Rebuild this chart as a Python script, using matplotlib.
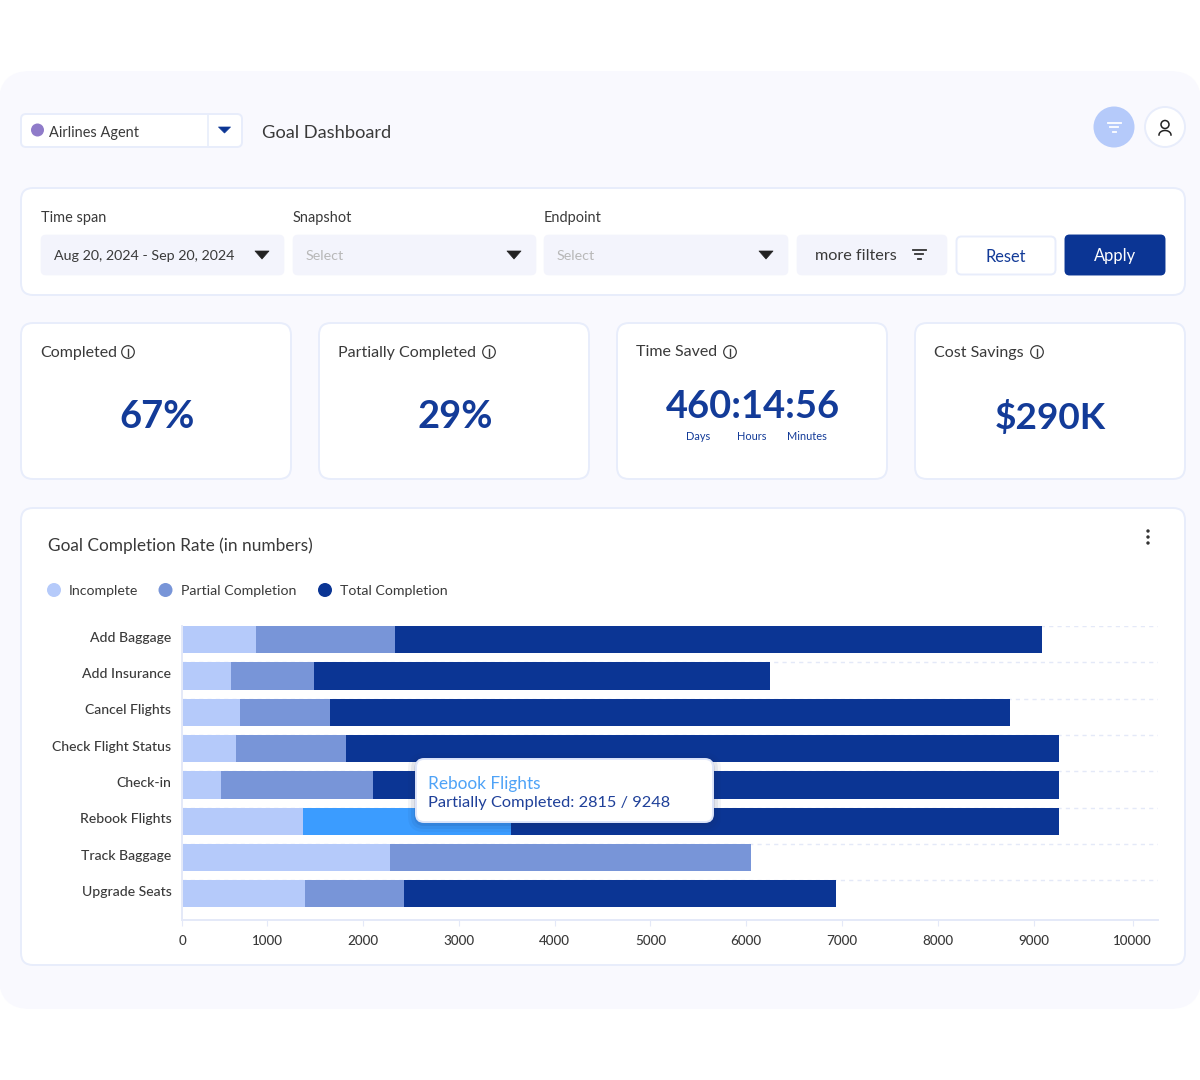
"""Goal dashboard mock: UI cards drawn in pixel space, stacked bar chart on its own axes."""

import matplotlib
import numpy as np

matplotlib.use("Agg")
import matplotlib.pyplot as plt
from matplotlib.patches import Circle, FancyBboxPatch, Polygon
from matplotlib.transforms import ScaledTranslation

W, H = 1200, 1080
FONT = "Lato"
BG = "#f9f9fe"
BORDER = "#e8edfb"
FIELD = "#f3f4fc"
NAVY = "#0b3594"
TITLE_BLUE = "#133b98"
DARK = "#3a3a3a"
LIGHT = "#b5cafa"
MID = "#7895d8"
HILITE = "#3b9cff"

GOALS = ["Add Baggage", "Add Insurance", "Cancel Flights", "Check Flight Status",
         "Check-in", "Rebook Flights", "Track Baggage", "Upgrade Seats"]
INCOMPLETE = np.array([776, 512, 607, 565, 407, 1272, 2191, 1294])
PARTIAL = np.array([1468, 877, 951, 1162, 1605, 2197, 3812, 1045])
TOTAL = np.array([6825, 4807, 7172, 7521, 7236, 5779, 0, 4554])
HOVERED = 5
X_MAX = 10292

# the tick labels in the source do not sit on the bar scale, so they are placed by hand
TICK_AT = [0, 892, 1906, 2920, 3928, 4937, 5945, 6954, 7967, 8981, 10026]
TICK_LABELS = [0, 1000, 2000, 3000, 4000, 5000, 6000, 7000, 8000, 9000, 10000]


def pt(px):
    return px * 72 / 100


def box(ax, x0, y0, x1, y1, fc="white", ec=BORDER, r=12, lw=1.4, z=1, **kw):
    ax.add_patch(FancyBboxPatch((x0 + r, y0 + r), x1 - x0 - 2 * r, y1 - y0 - 2 * r,
                                boxstyle=f"round,pad={r},rounding_size={r}",
                                fc=fc, ec=ec, lw=lw, zorder=z, **kw))


def label(ax, x, y, s, px=15, color=DARK, ha="left", weight="normal", z=5):
    # va="center" sits a little high for this font
    ax.text(x, y + 1.5, s, fontsize=pt(px), color=color, ha=ha, va="center",
            weight=weight, family=FONT, zorder=z)


def caret(ax, x, y, color="#222222", w=7, h=8):
    ax.add_patch(Polygon([(x - w, y - h / 2), (x + w, y - h / 2), (x, y + h / 2)],
                         fc=color, ec=color, lw=0.5, joinstyle="round", zorder=5))


def filter_icon(ax, x, y, color):
    for dy, half in [(-4.5, 6.5), (0, 4), (4.5, 1.5)]:
        ax.plot([x - half, x + half], [y + dy, y + dy], color=color, lw=1.3, zorder=5)


def info_icon(ax, x, y):
    ax.add_patch(Circle((x, y), 6.3, fc="none", ec=DARK, lw=0.9, zorder=5))
    ax.plot([x, x], [y - 3, y + 3.5], color=DARK, lw=1, zorder=5)


def draw_ui(ax):
    box(ax, 0, 72, 1200, 1008, fc=BG, ec=BG, r=30, z=0)

    # header
    box(ax, 21, 114, 242, 147, r=5)
    ax.plot([208, 208], [115, 146], color=BORDER, lw=1.2, zorder=2)
    ax.add_patch(Circle((37.5, 130), 6.5, fc="#8f7bc9", ec="none", zorder=5))
    label(ax, 49, 131, "Airlines Agent", px=14.5)
    caret(ax, 224.5, 130, color=NAVY, w=6, h=6)
    label(ax, 262, 131, "Goal Dashboard", px=18.3)
    ax.add_patch(Circle((1114, 127), 20.5, fc=LIGHT, ec="none", zorder=2))
    filter_icon(ax, 1114, 127, "white")
    ax.add_patch(Circle((1165, 127), 20, fc="white", ec=BORDER, lw=1.4, zorder=2))
    ax.add_patch(Circle((1165, 124.5), 4, fc="none", ec="#222222", lw=1.1, zorder=5))
    t = np.linspace(np.pi, 2 * np.pi, 30)
    ax.plot(1165 + 6 * np.cos(t), 135 + 4.5 * np.sin(t), color="#222222", lw=1.1, zorder=5)

    # filter bar
    box(ax, 21, 188, 1185, 295)
    for x0, x1, title, value, color in [
        (41, 284, "Time span", "Aug 20, 2024 - Sep 20, 2024", DARK),
        (293, 536, "Snapshot", "Select", "#b8b8b8"),
        (544, 788, "Endpoint", "Select", "#b8b8b8"),
    ]:
        label(ax, x0, 216.5, title, px=14.5)
        box(ax, x0, 235, x1, 275, fc=FIELD, ec=FIELD, r=5, lw=0.5)
        label(ax, x0 + 13, 255, value, px=14.2, color=color)
        caret(ax, x1 - 22, 255)
    box(ax, 797, 235, 947, 275, fc=FIELD, ec=FIELD, r=5, lw=0.5)
    label(ax, 815, 255, "more filters", px=16.2)
    filter_icon(ax, 919, 254, "#333333")
    box(ax, 956.5, 236.5, 1055.5, 274.5, r=5)
    label(ax, 1006, 255, "Reset", px=16.5, color=TITLE_BLUE, ha="center")
    box(ax, 1065.5, 235.5, 1164.5, 274.5, fc=NAVY, ec=NAVY, r=4)
    label(ax, 1115, 255, "Apply", px=16.5, color="white", ha="center")

    # stat cards
    cards = [(21, "Completed", 128), (319, "Partially Completed", 489),
             (617, "Time Saved", 730), (915, "Cost Savings", 1037)]
    for x0, title, ix in cards:
        box(ax, x0, 323, x0 + 270, 479)
        label(ax, x0 + 19.5, 351, title, px=16)
        info_icon(ax, ix, 352)
    label(ax, 157, 416, "67%", px=38, color=TITLE_BLUE, ha="center", weight="bold")
    label(ax, 455, 416, "29%", px=38, color=TITLE_BLUE, ha="center", weight="bold")
    label(ax, 753, 406, "460:14:56", px=38, color=TITLE_BLUE, ha="center", weight="bold")
    for x, s in [(698, "Days"), (751.5, "Hours"), (807, "Minutes")]:
        label(ax, x, 435, s, px=11, color=TITLE_BLUE, ha="center")
    label(ax, 1050, 416, "$290K", px=37, color=TITLE_BLUE, ha="center", weight="bold")

    # chart card
    box(ax, 21, 508, 1185, 965)
    label(ax, 48, 544, "Goal Completion Rate (in numbers)", px=17.3)
    for y in (531, 537, 543):
        ax.add_patch(Circle((1148, y), 1.7, fc="#333333", ec="none", zorder=5))
    for cx, tx, color, s in [(54, 69, LIGHT, "Incomplete"),
                             (165.5, 181, MID, "Partial Completion"),
                             (325, 340, NAVY, "Total Completion")]:
        ax.add_patch(Circle((cx, 590), 7, fc=color, ec="none", zorder=5))
        label(ax, tx, 589.5, s, px=14.1)


def draw_chart(ax):
    y = np.arange(len(GOALS))
    ax.hlines(y - 0.375, 0, X_MAX, color="#e4e9f8", lw=1, linestyles=(0, (3, 3)), zorder=1)
    mid_colors = [HILITE if i == HOVERED else MID for i in y]
    ax.barh(y, INCOMPLETE, height=0.75, color=LIGHT, zorder=2)
    ax.barh(y, PARTIAL, left=INCOMPLETE, height=0.75, color=mid_colors, zorder=2)
    ax.barh(y, TOTAL, left=INCOMPLETE + PARTIAL, height=0.75, color=NAVY, zorder=2)

    ax.set_xlim(0, X_MAX)
    ax.set_ylim(7.72, -0.375)
    ax.set_yticks(y, GOALS)
    ax.set_xticks(TICK_AT, TICK_LABELS)
    ax.tick_params(axis="y", length=0, pad=8, labelsize=pt(14), labelcolor=DARK)
    ax.tick_params(axis="x", length=4, width=0.8, color="#e4e9f8", pad=7,
                   labelsize=pt(13.5), labelcolor=DARK)
    for lab in ax.get_xticklabels() + ax.get_yticklabels():
        lab.set_family(FONT)
        lab.set_weight("medium")
    # row labels ride slightly above the bar centres
    nudge = ScaledTranslation(0, 3 / 100, ax.figure.dpi_scale_trans)
    for lab in ax.get_yticklabels():
        lab.set_transform(lab.get_transform() + nudge)
    for side in ("top", "right"):
        ax.spines[side].set_visible(False)
    for side in ("left", "bottom"):
        ax.spines[side].set_color("#e4e9f8")
        ax.spines[side].set_linewidth(1.4)
    ax.patch.set_alpha(0)


def draw_tooltip(ax):
    for grow, alpha in [(8, 0.05), (5, 0.07), (2, 0.10)]:
        box(ax, 416 - grow, 759 - grow + 2, 713 + grow, 822 + grow + 2, fc="#1a2a60",
            ec="none", r=8 + grow, lw=0, z=6, alpha=alpha)
    box(ax, 416, 759, 713, 822, ec="#dfe6fa", r=8, lw=1.4, z=7)
    label(ax, 428, 782, "Rebook Flights", px=17.3, color="#4fa3f7", z=8)
    label(ax, 428, 801, "Partially Completed: 2815 / 9248", px=16.4, color="#1f4099", z=8)


def main():
    fig = plt.figure(figsize=(W / 100, H / 100), dpi=100, facecolor="white")

    ui = fig.add_axes([0, 0, 1, 1], zorder=0)
    ui.set_xlim(0, W)
    ui.set_ylim(H, 0)
    ui.axis("off")
    draw_ui(ui)

    left, right, top, bottom = 182.5, 1158, 626, 920
    chart = fig.add_axes([left / W, 1 - bottom / H, (right - left) / W, (bottom - top) / H], zorder=1)
    draw_chart(chart)

    over = fig.add_axes([0, 0, 1, 1], zorder=2)
    over.set_xlim(0, W)
    over.set_ylim(H, 0)
    over.axis("off")
    draw_tooltip(over)

    fig.savefig("out.png", dpi=100, facecolor="white")
    plt.close(fig)


if __name__ == "__main__":
    main()
